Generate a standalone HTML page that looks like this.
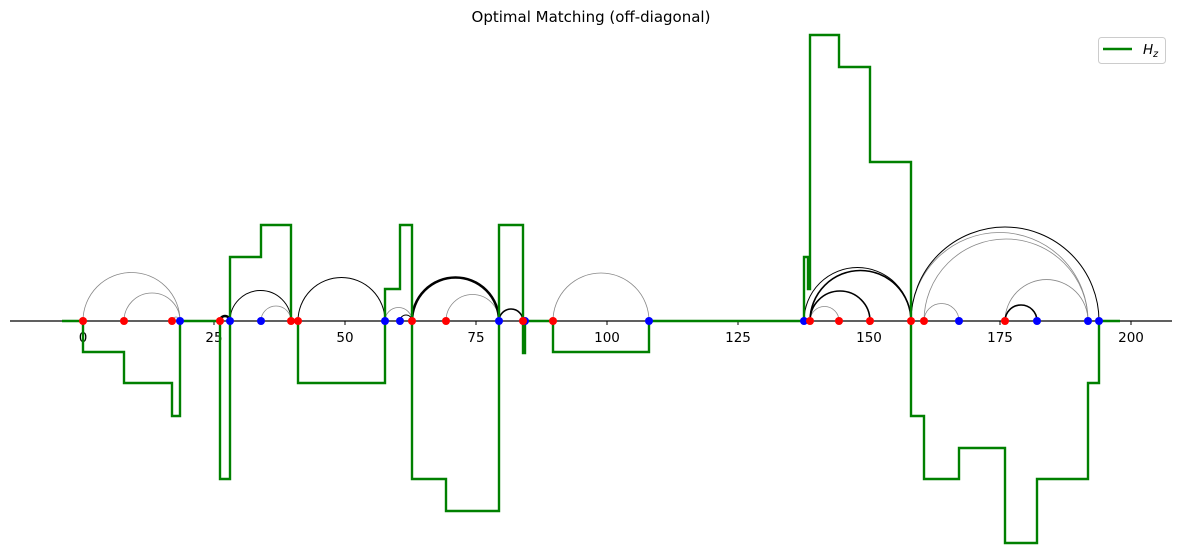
<!DOCTYPE html>
<html><head><meta charset="utf-8"><style>
html,body{margin:0;padding:0;background:#fff;}
svg{display:block;font-family:"DejaVu Sans","Liberation Sans",sans-serif;}
</style></head><body>
<svg width="1182" height="558" viewBox="0 0 1182 558" xmlns="http://www.w3.org/2000/svg">
<rect width="1182" height="558" fill="#fff"/>
<text x="591" y="22" text-anchor="middle" font-size="15">Optimal Matching (off-diagonal)</text>
<!-- axis -->
<line x1="10" y1="321" x2="1172" y2="321" stroke="#000" stroke-width="1.2"/>
<g stroke="#000" stroke-width="1">
<line x1="83" y1="321" x2="83" y2="325"/><line x1="214" y1="321" x2="214" y2="325"/><line x1="345" y1="321" x2="345" y2="325"/><line x1="476" y1="321" x2="476" y2="325"/><line x1="607" y1="321" x2="607" y2="325"/><line x1="738" y1="321" x2="738" y2="325"/><line x1="869" y1="321" x2="869" y2="325"/><line x1="1000" y1="321" x2="1000" y2="325"/><line x1="1131" y1="321" x2="1131" y2="325"/>
</g>
<g font-size="13.5" text-anchor="middle" fill="#000">
<text x="83" y="342">0</text><text x="214" y="342">25</text><text x="345" y="342">50</text><text x="476" y="342">75</text><text x="607" y="342">100</text><text x="738" y="342">125</text><text x="869" y="342">150</text><text x="1000" y="342">175</text><text x="1131" y="342">200</text>
</g>
<!-- arcs -->
<g fill="none">
<g stroke="#888" stroke-width="0.8">
<path d="M83 321 A48.5 48.5 0 0 1 180 321"/>
<path d="M124 321 A28 28 0 0 1 180 321"/>
<path d="M172 321 A4 4 0 0 1 180 321"/>
<path d="M261 321 A15 15 0 0 1 291 321"/>
<path d="M385 321 A13.5 13.5 0 0 1 412 321"/>
<path d="M446 321 A26.5 26.5 0 0 1 499 321"/>
<path d="M553 321 A48 48 0 0 1 649 321"/>
<path d="M810 321 A14.5 14.5 0 0 1 839 321"/>
<path d="M911 321 A88.5 88.5 0 0 1 1088 321"/>
<path d="M924 321 A82 82 0 0 1 1088 321"/>
<path d="M924 321 A17.5 17.5 0 0 1 959 321"/>
<path d="M1005 321 A41.5 41.5 0 0 1 1088 321"/>
</g>
<g stroke="#000" stroke-width="1">
<path d="M230 321 A30.5 30.5 0 0 1 291 321"/>
<path d="M298 321 A43.5 43.5 0 0 1 385 321"/>
<path d="M400 321 A6 6 0 0 1 412 321"/>
<path d="M804 321 A53.5 53.5 0 0 1 911 321"/>
<path d="M911 321 A94 94 0 0 1 1099 321"/>
</g>
<g stroke="#000" stroke-width="1.6">
<path d="M499 321 A12 12 0 0 1 523 321"/>
<path d="M810 321 A50.5 50.5 0 0 1 911 321"/>
<path d="M810 321 A30 30 0 0 1 870 321"/>
<path d="M1005 321 A16 16 0 0 1 1037 321"/>
</g>
<g stroke="#000" stroke-width="2.6">
<path d="M220 321 A5 5 0 0 1 230 321"/>
<path d="M412 321 A43.5 43.5 0 0 1 499 321"/>
</g>
</g>
<!-- green step -->
<path fill="none" stroke="#008000" stroke-width="2.4" stroke-linejoin="miter" d="M62 321 H83 V352 H124 V383 H172 V416 H180 V321 H220 V479 H230 V257 H261 V225 H291 V321 H298 V383 H385 V289 H400 V225 H412 V479 H446 V511 H499 V225 H523 V353 H525 V321 H553 V352 H649 V321 H804 V257 H808 V289 H810 V35 H839 V67 H870 V162 H911 V416 H924 V479 H959 V448 H1005 V543 H1037 V479 H1088 V383 H1099 V321 H1120"/>
<!-- points -->
<g fill="#ff0000">
<circle cx="83" cy="321" r="4"/><circle cx="124" cy="321" r="4"/><circle cx="172" cy="321" r="4"/><circle cx="220" cy="321" r="4"/><circle cx="291" cy="321" r="4"/><circle cx="298" cy="321" r="4"/><circle cx="412" cy="321" r="4"/><circle cx="446" cy="321" r="4"/><circle cx="553" cy="321" r="4"/>
</g>
<g fill="#0000ff">
<circle cx="180" cy="321" r="4"/><circle cx="230" cy="321" r="4"/><circle cx="261" cy="321" r="4"/><circle cx="385" cy="321" r="4"/><circle cx="400" cy="321" r="4"/><circle cx="499" cy="321" r="4"/><circle cx="525" cy="321" r="4"/><circle cx="649" cy="321" r="4"/><circle cx="804" cy="321" r="4"/><circle cx="959" cy="321" r="4"/><circle cx="1037" cy="321" r="4"/><circle cx="1088" cy="321" r="4"/><circle cx="1099" cy="321" r="4"/>
</g>
<g fill="#ff0000">
<circle cx="523" cy="321" r="4"/><circle cx="810" cy="321" r="4"/><circle cx="839" cy="321" r="4"/><circle cx="870" cy="321" r="4"/><circle cx="911" cy="321" r="4"/><circle cx="924" cy="321" r="4"/><circle cx="1005" cy="321" r="4"/>
</g>
<!-- legend -->
<rect x="1098.5" y="37.5" width="67" height="26" rx="3" fill="#fff" stroke="#ccc" stroke-width="1"/>
<line x1="1103" y1="49" x2="1132" y2="49" stroke="#008000" stroke-width="2.4"/>
<text x="1143" y="54" font-size="13.5" font-style="italic">H<tspan font-size="9.5" dy="3">z</tspan></text>
</svg>
</body></html>
